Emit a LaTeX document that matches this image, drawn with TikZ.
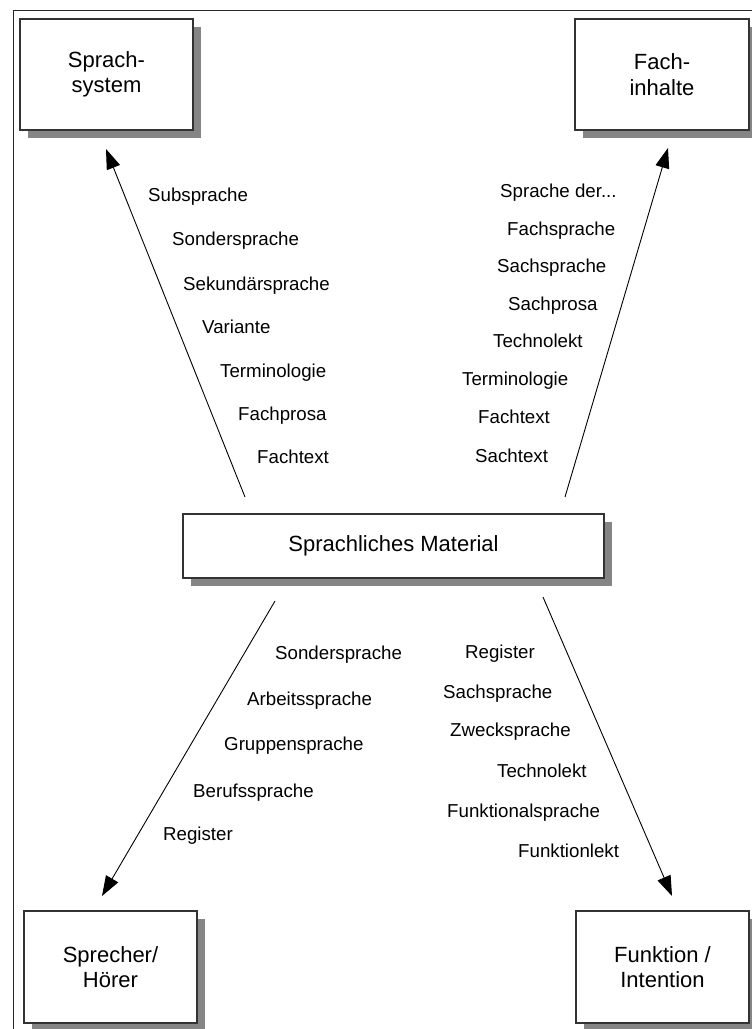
\documentclass[tikz,border=0pt]{standalone}
\usepackage{fontspec}
\setmainfont{Liberation Sans}
\usetikzlibrary{arrows.meta,shadows}
\begin{document}
\begin{tikzpicture}[x=1pt,y=-1pt,
  box/.style={draw=black!80, line width=1.4pt, fill=white, inner sep=0pt,
    align=center, font=\fontsize{22}{25.5}\selectfont,
    drop shadow={shadow xshift=8pt, shadow yshift=-8pt, fill=black!48, opacity=1}},
  lbl/.style={anchor=base west, inner sep=0pt, font=\fontsize{18.7}{22}\selectfont},
  arr/.style={line width=0.9pt, -{Triangle[length=20pt,width=14pt]}}]
\useasboundingbox (0,0) rectangle (752,1029);
\fill[white] (0,0) rectangle (752,1029);
% frame
\draw[line width=1pt, black!85] (13,1029) -- (13,10) -- (752,10);
% boxes
\node[box, minimum width=173pt, minimum height=111pt] (sys) at (106.5,74.5) {Sprach-\\system};
\node[box, minimum width=174pt, minimum height=111pt] (fach) at (662,74.5) {Fach-\\inhalte};
\node[box, minimum width=421pt, minimum height=64pt] (mat) at (393.5,546) {Sprachliches Material};
\node[box, minimum width=173pt, minimum height=112pt] (spr) at (110.5,967) {Sprecher/\\Hörer};
\node[box, minimum width=173pt, minimum height=112pt] (fun) at (662.5,967) {Funktion /\\Intention};
% arrow coordinates
\coordinate (s1) at (245,497); \coordinate (t1) at (106,149);
\coordinate (s2) at (565,497); \coordinate (t2) at (668,148);
\coordinate (s3) at (275,601); \coordinate (t3) at (102,896);
\coordinate (s4) at (543,597); \coordinate (t4) at (672,896);
\draw[arr] (s1) -- (t1);
\draw[arr] (s2) -- (t2);
\draw[arr] (s3) -- (t3);
\draw[arr] (s4) -- (t4);
% upper left labels
\node[lbl] (a1) at (148,201) {Subsprache};
\node[lbl] (a2) at (172,245) {Sondersprache};
\node[lbl] (a3) at (183,290) {Sekundärsprache};
\node[lbl] (a4) at (202,333) {Variante};
\node[lbl] (a5) at (220,377) {Terminologie};
\node[lbl] (a6) at (238,420) {Fachprosa};
\node[lbl] (a7) at (257,463) {Fachtext};
% upper right labels
\node[lbl] (b1) at (500,197) {Sprache der...};
\node[lbl] (b2) at (507,235) {Fachsprache};
\node[lbl] (b3) at (497,272) {Sachsprache};
\node[lbl] (b4) at (508,310) {Sachprosa};
\node[lbl] (b5) at (493,347) {Technolekt};
\node[lbl] (b6) at (462,385) {Terminologie};
\node[lbl] (b7) at (478,423) {Fachtext};
\node[lbl] (b8) at (475,462) {Sachtext};
% lower left labels
\node[lbl] (c1) at (275,659) {Sondersprache};
\node[lbl] (c2) at (247,705) {Arbeitssprache};
\node[lbl] (c3) at (224,750) {Gruppensprache};
\node[lbl] (c4) at (193,797) {Berufssprache};
\node[lbl] (c5) at (163,840) {Register};
% lower right labels
\node[lbl] (d1) at (465,658) {Register};
\node[lbl] (d2) at (443,698) {Sachsprache};
\node[lbl] (d3) at (450,736) {Zwecksprache};
\node[lbl] (d4) at (497,777) {Technolekt};
\node[lbl] (d5) at (447,817) {Funktionalsprache};
\node[lbl] (d6) at (518,857) {Funktionlekt};
\end{tikzpicture}
\end{document}
